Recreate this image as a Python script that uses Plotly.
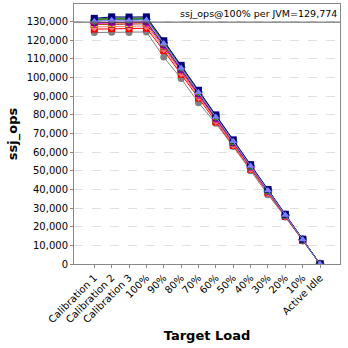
import plotly.graph_objects as go

categories = ["Calibration 1", "Calibration 2", "Calibration 3", "100%", "90%", "80%",
              "70%", "60%", "50%", "40%", "30%", "20%", "10%", "Active Idle"]

jvm_gray = [124200, 124300, 124200, 124500, 111000, 99500, 86500, 75500, 63000, 50000, 37200, 25200, 12400, 0]
jvm_red = [126000, 126300, 126200, 126500, 114500, 101800, 89000, 76300, 63600, 50900, 38200, 25500, 12700, 0]
jvm_salmon = [127200, 127500, 127400, 127700, 115500, 102600, 89800, 77000, 64100, 51300, 38500, 25700, 12800, 0]
jvm_darkred = [128500, 128700, 128600, 128900, 116600, 103700, 90700, 77700, 64800, 51800, 38900, 25900, 12900, 0]
jvm_yellow = [128800, 129100, 129000, 129300, 117000, 104000, 91000, 77900, 65000, 52000, 39000, 26000, 13000, 0]
jvm_magenta = [129000, 129400, 129300, 129500, 117200, 104100, 91100, 78000, 65100, 52100, 39000, 26000, 13000, 0]
jvm_purple = [129500, 129800, 129700, 129900, 117500, 104300, 91300, 78200, 65200, 52200, 39100, 26100, 13000, 0]
jvm_teal = [130600, 131200, 131100, 131300, 118600, 105500, 92300, 79100, 65900, 52700, 39600, 26400, 13200, 0]
jvm_olive = [130900, 131600, 131500, 131700, 118900, 105800, 92500, 79300, 66000, 52800, 39600, 26400, 13200, 0]
jvm_green = [131200, 132000, 131900, 132000, 119200, 106000, 92800, 79500, 66200, 53000, 39700, 26500, 13200, 0]
jvm_navy = [131800, 132600, 132500, 132600, 119800, 106600, 93200, 80000, 66600, 53300, 40000, 26700, 13300, 0]
jvm_lightblue = [130300, 130800, 130700, 130900, 118300, 105200, 92100, 78900, 65800, 52600, 39500, 26300, 13100, 0]

avg_100 = 129774
y_ticks = list(range(0, 130001, 10000))

series = [
    ("JVM 1", jvm_gray, "#808080", "circle"),
    ("JVM 2", jvm_red, "#ff0000", "square"),
    ("JVM 3", jvm_salmon, "#ff8080", "diamond"),
    ("JVM 4", jvm_darkred, "#800000", "square"),
    ("JVM 5", jvm_yellow, "#e8e800", "square"),
    ("JVM 6", jvm_magenta, "#ff00ff", "diamond"),
    ("JVM 7", jvm_purple, "#800080", "square"),
    ("JVM 8", jvm_teal, "#008080", "diamond"),
    ("JVM 9", jvm_olive, "#808000", "square"),
    ("JVM 10", jvm_green, "#008000", "circle"),
    ("JVM 11", jvm_navy, "#000080", "square"),
    ("JVM 12", jvm_lightblue, "#8080ff", "triangle-up"),
]

fig = go.Figure()
xs = list(range(len(categories)))
for name, vals, color, sym in series:
    fig.add_trace(go.Scatter(
        x=xs, y=vals, name=name, mode="lines+markers",
        line=dict(color=color, width=1),
        marker=dict(color=color, symbol=sym, size=7),
        showlegend=False,
    ))

fig.add_shape(type="line", xref="paper", x0=0, x1=1, yref="y", y0=avg_100, y1=avg_100,
              line=dict(color="#555555", width=1))
fig.add_annotation(xref="paper", x=0.995, yref="y", y=avg_100, yanchor="bottom", xanchor="right",
                   text="ssj_ops@100% per JVM=" + f"{avg_100:,}", showarrow=False,
                   font=dict(family="DejaVu Sans", size=9.5, color="#000000"), yshift=1)

fig.update_layout(
    width=348, height=348,
    margin=dict(l=74, r=8, t=4, b=84),
    paper_bgcolor="white", plot_bgcolor="white",
    font=dict(family="DejaVu Sans", size=10, color="#000000"),
)
fig.update_xaxes(
    tickmode="array", tickvals=xs, ticktext=categories, tickangle=-45,
    range=[-1.17, 14.15], showgrid=False, showline=True, mirror=True,
    linecolor="#888888", linewidth=1, ticks="outside", ticklen=3, tickcolor="#888888",
    tickfont=dict(size=10),
    title=dict(text="<b>Target Load</b>", font=dict(size=13), standoff=6),
    zeroline=False,
)
fig.update_yaxes(
    tickmode="array", tickvals=y_ticks, ticktext=[f"{v:,}" for v in y_ticks],
    range=[0, 139500], showgrid=True, gridcolor="#e0e0e0", griddash="dash", gridwidth=1,
    showline=True, mirror=True, linecolor="#888888", linewidth=1,
    ticks="outside", ticklen=3, tickcolor="#888888", tickfont=dict(size=10),
    title=dict(text="<b>ssj_ops</b>", font=dict(size=13), standoff=6),
    zeroline=False,
)

fig.write_html("out.html")
